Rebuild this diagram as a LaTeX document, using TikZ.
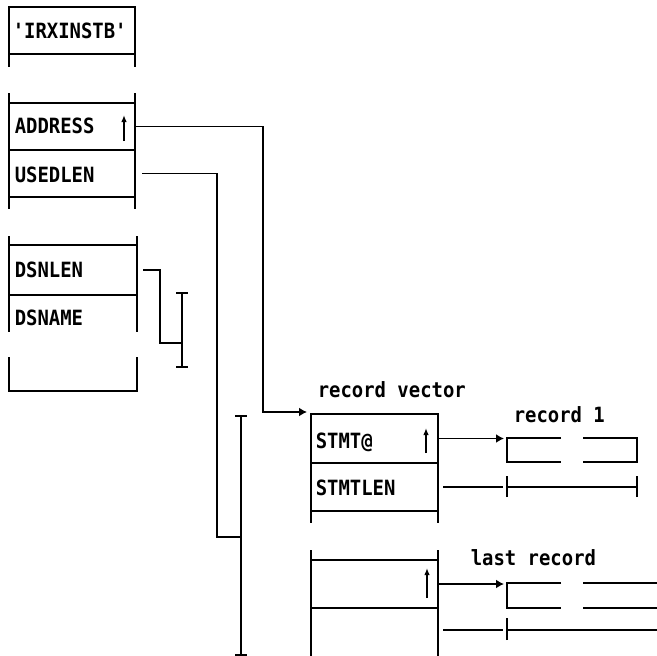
\documentclass[tikz,border=0pt]{standalone}
\usepackage{fontspec}
\newfontfamily\diagmono[FakeStretch=0.9,Ligatures=TeXOff]{DejaVu Sans Mono}
\usetikzlibrary{arrows.meta}
\begin{document}
\begin{tikzpicture}[x=1pt,y=-1pt,line width=1.7pt,
  cell/.style={draw,rectangle,anchor=north west,inner sep=0pt,outer sep=0pt},
  ghost/.style={rectangle,anchor=north west,inner sep=0pt,outer sep=0pt},
  lbl/.style={anchor=base west,inner sep=0pt,font=\diagmono\bfseries\fontsize{21}{23}\selectfont},
  ptr/.style={-{Latex[length=8pt,width=9pt]}},
  uparrow/.style={-{Latex[length=7pt,width=5.5pt]},line width=1.7pt}]
\useasboundingbox (0,0) rectangle (657,656);

% block 1
\node[cell,minimum width=126pt,minimum height=47pt] (irx) at (9,7) {};
\draw (irx.south west) -- ++(0,13) (irx.south east) -- ++(0,13);
\node[lbl] (tirx) at (12,38) {'IRXINSTB'};

% block 2
\node[cell,minimum width=126pt,minimum height=47pt] (addr) at (9,103) {};
\node[cell,minimum width=126pt,minimum height=47pt] (used) at (9,150) {};
\draw (addr.north west) -- ++(0,-10) (addr.north east) -- ++(0,-10);
\draw (used.south west) -- ++(0,12) (used.south east) -- ++(0,12);
\node[lbl] (taddr) at (14,133) {ADDRESS};
\node[lbl] (tused) at (14,182) {USEDLEN};
\draw[uparrow] (124,141) -- (124,115);

% block 3
\node[cell,minimum width=128pt,minimum height=50pt] (dsnlen) at (9,245) {};
\draw (dsnlen.north west) -- ++(0,-9) (dsnlen.north east) -- ++(0,-9);
\draw (dsnlen.south west) -- ++(0,37) (dsnlen.south east) -- ++(0,37);
\coordinate (b3l) at (9,357);
\coordinate (b3r) at (137,357);
\draw (b3l) |- (137,391) -- (b3r);
\node[lbl] (tdsnlen) at (14,277) {DSNLEN};
\node[lbl] (tdsname) at (14,325) {DSNAME};

% DSNLEN length bar
\coordinate (b3t) at (182,293);
\coordinate (b3b) at (182,367);
\coordinate (b3j) at (182,343);
\draw (b3t) -- (b3b);
\draw ([xshift=-6pt]b3t) -- ([xshift=6pt]b3t);
\draw ([xshift=-6pt]b3b) -- ([xshift=6pt]b3b);
\draw ([xshift=6pt]dsnlen.east) -- (160,270) |- (b3j);

% USEDLEN length bar
\coordinate (b2t) at (241,416);
\coordinate (b2b) at (241,655);
\coordinate (b2j) at (241,537);
\draw (b2t) -- (b2b);
\draw ([xshift=-6pt]b2t) -- ([xshift=6pt]b2t);
\draw ([xshift=-6pt]b2b) -- ([xshift=6pt]b2b);
\draw ([xshift=7pt]used.east) -- (217,173.5) |- (b2j);

% record vector
\node[lbl] (trv) at (317,397) {record vector};
\node[cell,minimum width=127pt,minimum height=49pt] (stmt) at (311,414) {};
\node[cell,minimum width=127pt,minimum height=48pt] (stmtlen) at (311,463) {};
\draw (stmtlen.south west) -- ++(0,12) (stmtlen.south east) -- ++(0,12);
\node[lbl] (tstmt) at (315,448) {STMT@};
\node[lbl] (tstmtlen) at (315,495) {STMTLEN};
\draw[uparrow] (426,453) -- (426,428);

\draw[ptr] (addr.east) -- (263,126.5) |- ([shift={(-4pt,2pt)}]stmt.north west);

% last entry of the vector
\node[cell,minimum width=127pt,minimum height=48pt] (lastp) at (311,560) {};
\node[ghost,minimum width=127pt,minimum height=44pt] (lastq) at (311,608) {};
\draw (lastp.north west) -- ++(0,-10) (lastp.north east) -- ++(0,-10);
\draw (lastp.south west) -- ++(0,48) (lastp.south east) -- ++(0,48);
\draw[uparrow] (427,598) -- (427,568);

% record 1
\node[lbl] (tr1) at (513,422) {record 1};
\node[ghost,minimum width=130pt,minimum height=24pt] (rec1) at (507,438) {};
\draw (561,438) -- (rec1.north west) -- (rec1.south west) -- (561,462);
\draw (583,438) -- (rec1.north east) -- (rec1.south east) -- (583,462);
\draw[ptr,shorten >=3pt] (stmt.east) -- (stmt.east -| rec1.west);
\coordinate (l1a) at (stmtlen.east -| rec1.west);
\coordinate (l1b) at (stmtlen.east -| rec1.east);
\draw ([xshift=5pt]stmtlen.east) -- ([xshift=-4pt]l1a);
\draw (l1a) -- (l1b);
\draw ([yshift=-10pt]l1a) -- ([yshift=11pt]l1a);
\draw ([yshift=-10pt]l1b) -- ([yshift=11pt]l1b);

% last record
\node[lbl] (tlr) at (470,565) {last record};
\node[ghost,minimum width=150pt,minimum height=25pt] (lrec) at (507,583) {};
\draw (561,583) -- (lrec.north west) -- (lrec.south west) -- (561,608);
\draw (583,583) -- (lrec.north east);
\draw (583,608) -- (lrec.south east);
\draw[ptr,shorten >=3pt] (lastp.east) -- (lastp.east -| lrec.west);
\coordinate (l2a) at (lastq.east -| lrec.west);
\coordinate (l2b) at (lastq.east -| lrec.east);
\draw ([xshift=5pt]lastq.east) -- ([xshift=-4pt]l2a);
\draw (l2a) -- (l2b);
\draw ([yshift=-10pt]l2a) -- ([yshift=12pt]l2a);
\end{tikzpicture}
\end{document}
